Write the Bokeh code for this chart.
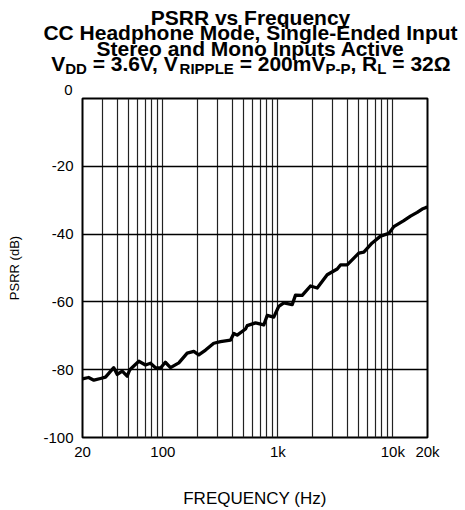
from bokeh.plotting import figure
from bokeh.models import Range1d, FixedTicker, Label
from bokeh.layouts import column
from bokeh.embed import file_html
from bokeh.resources import INLINE

# ---- data ----
freq = [20, 22.6, 25.1, 28.7, 31.7, 37.4, 40.1, 44.3, 48.9, 51.6, 61.8, 70.6, 78,
        86.3, 95.4, 105, 116.5, 137.6, 162.7, 185.7, 205, 235, 277, 317, 387, 414,
        443, 523, 541, 639, 754, 807, 921, 1019, 1126, 1332, 1423, 1627, 1921, 2198,
        2684, 3280, 3504, 4006, 5053, 5586, 6608, 7806, 9214, 10186, 12444, 14230,
        16272, 17980, 19214, 20000]
psrr = [-82.7, -82.3, -83.1, -82.6, -82.2, -79.4, -81.4, -80.4, -81.9, -80.0, -77.5,
        -78.6, -78.1, -79.4, -79.5, -77.8, -79.4, -78.0, -75.1, -74.6, -75.6, -74.2,
        -72.2, -71.7, -71.3, -69.3, -69.8, -68.0, -67.0, -66.2, -66.8, -64.0, -64.5,
        -61.3, -60.3, -60.8, -58.0, -58.1, -55.3, -55.9, -52.0, -50.3, -49.1, -49.1,
        -45.6, -45.3, -42.6, -40.6, -39.8, -37.8, -36.0, -34.7, -33.6, -32.6, -32.2,
        -32.0]

x_tick_vals = [20, 100, 1000, 10000, 20000]
x_tick_text = ["20", "100", "1k", "10k", "20k"]
y_tick_vals = [-100, -80, -60, -40, -20, 0]
y_tick_text = ["-100", "-80", "-60", "-40", "-20", ""]
y_top_text = "0"
grid_freqs = [30, 40, 50, 60, 70, 80, 90, 100,
              200, 300, 400, 500, 600, 700, 800, 900, 1000,
              2000, 3000, 4000, 5000, 6000, 7000, 8000, 9000, 10000]
grid_db = [-80, -60, -40, -20]

title_lines = ["PSRR vs Frequency",
               "CC Headphone Mode, Single-Ended Input",
               "Stereo and Mono Inputs Active"]
# (text, is_subscript)
title_last = [("V", False), ("DD", True), (" = 3.6V, V", False), ("RIPPLE", True),
              (" = 200mV", False), ("P-P", True), (", R", False), ("L", True),
              (" = 32\u03a9", False)]
x_label = "FREQUENCY (Hz)"
y_label = "PSRR (dB)"

# ---- layout (page pixels) ----
W, H = 465, 510
HT = 97                                   # height of the title strip
FL, FR, FT, FB = 82, 427, 98, 440          # frame edges of the plot
FONT = "Liberation Sans"


def no_align(fig):
    if "frame_align" in fig.properties():
        fig.frame_align = False


# ---------- title strip ----------
t = figure(width=W, height=HT, x_range=Range1d(0, W), y_range=Range1d(0, HT),
           output_backend="svg", toolbar_location=None,
           min_border_left=0, min_border_right=0, min_border_top=0, min_border_bottom=0)
no_align(t)
t.title.visible = False
t.axis.visible = False
t.grid.visible = False
t.outline_line_color = None
t.background_fill_color = "white"
t.border_fill_color = "white"


def ty(py):
    return HT - py


TITLE_SIZE = 21
SUB_SIZE = 15
center_px = 250
SHIFT = -6
baselines = [22.7, 38.3, 53.6]
for line, b in zip(title_lines, baselines):
    t.add_layout(Label(x=center_px, y=ty(b + SHIFT), text=line, text_align="center",
                       text_baseline="alphabetic", text_font=FONT,
                       text_font_size=f"{TITLE_SIZE}px", text_font_style="bold",
                       text_color="black"))

wid = {"V": 667, "D": 722, "=": 584, " ": 278, ".": 278, ",": 278, "R": 722,
       "I": 278, "P": 667, "L": 611, "E": 667, "m": 889, "-": 333, "\u03a9": 768}
for d in "0123456789":
    wid[d] = 556


def text_w(s, size):
    return sum(wid.get(c, 600) for c in s) / 1000 * size


total = sum(text_w(s, SUB_SIZE if sub else TITLE_SIZE) for s, sub in title_last)
xpos = center_px - total / 2
for s, sub in title_last:
    size = SUB_SIZE if sub else TITLE_SIZE
    base = (74.0 if sub else 68.6) + SHIFT
    body = s.lstrip(" ")
    lead = text_w(s[:len(s) - len(body)], size)
    t.add_layout(Label(x=xpos + lead, y=ty(base), text=body, text_align="left",
                       text_baseline="alphabetic", text_font=FONT,
                       text_font_size=f"{size}px", text_font_style="bold",
                       text_color="black"))
    xpos += text_w(s, size)

# "0" tick label of the y axis sits just above the frame top
t.add_layout(Label(x=FL - 10, y=ty(89), text=y_top_text, text_align="right",
                   text_baseline="middle", text_font=FONT, text_font_size="15px",
                   text_color="black"))

# ---------- main plot ----------
HP = H - HT
p = figure(width=W, height=HP, x_axis_type="log",
           x_range=Range1d(20, 20000), y_range=Range1d(-100, 0),
           output_backend="svg", toolbar_location=None,
           min_border_left=FL, min_border_right=W - FR,
           min_border_top=FT - HT, min_border_bottom=H - FB)
no_align(p)
p.background_fill_color = "white"
p.border_fill_color = "white"
p.outline_line_color = "black"
p.outline_line_width = 2
p.outline_line_alpha = 1

p.xgrid.ticker = FixedTicker(ticks=grid_freqs)
p.xgrid.grid_line_color = "#222222"
p.xgrid.grid_line_width = 1.2
p.xgrid.grid_line_alpha = 1
p.ygrid.ticker = FixedTicker(ticks=grid_db)
p.ygrid.grid_line_color = "black"
p.ygrid.grid_line_width = 1.3
p.ygrid.grid_line_alpha = 1

for ax in (p.xaxis[0], p.yaxis[0]):
    ax.axis_line_color = None
    ax.major_tick_line_color = None
    ax.minor_tick_line_color = None
    ax.major_tick_out = 0
    ax.major_tick_in = 0
    ax.minor_tick_out = 0
    ax.major_label_text_font = FONT
    ax.major_label_text_font_size = "15px"
    ax.major_label_text_color = "black"
    ax.axis_label_text_font = FONT
    ax.axis_label_text_font_style = "normal"
    ax.axis_label_text_color = "black"

p.xaxis.ticker = FixedTicker(ticks=x_tick_vals)
p.xaxis.major_label_overrides = {v: s for v, s in zip(x_tick_vals, x_tick_text)}
p.xaxis.major_label_standoff = 5
p.xaxis.axis_label = x_label
p.xaxis.axis_label_text_font_size = "17px"
p.xaxis.axis_label_standoff = 26

p.yaxis.ticker = FixedTicker(ticks=y_tick_vals)
p.yaxis.major_label_overrides = {v: s for v, s in zip(y_tick_vals, y_tick_text)}
p.yaxis.major_label_standoff = 9
p.yaxis.axis_label = y_label
p.yaxis.axis_label_text_font_size = "13px"
p.yaxis.axis_label_standoff = 18

p.line(freq, psrr, line_color="black", line_width=3.3, line_join="round")

layout = column(t, p, spacing=0)
open("out.html", "w").write(file_html(layout, INLINE))
